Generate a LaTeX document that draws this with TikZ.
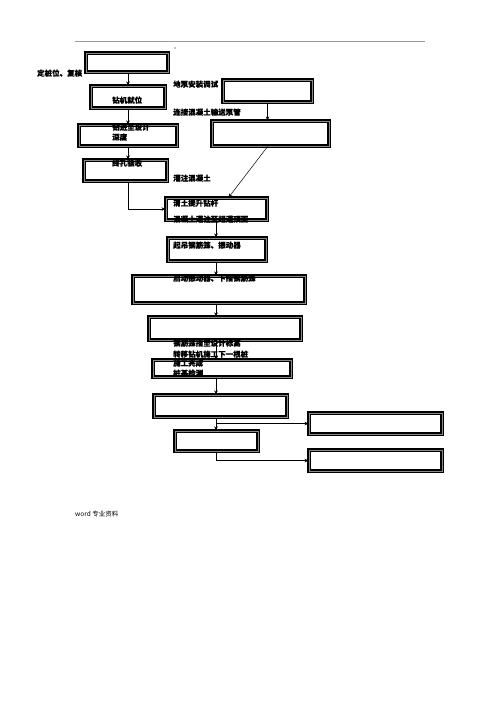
\documentclass[tikz,border=0pt]{standalone}
\usepackage{fontspec}
\newfontfamily\cjk[BoldFeatures={FakeBold=0.15}]{Noto Sans CJK SC}
\usetikzlibrary{arrows.meta, positioning}
\usepackage{xcolor}
\definecolor{rulegray}{HTML}{9A9A9A}
\definecolor{framegray}{HTML}{8A8A8A}

\begin{document}
\begin{tikzpicture}[
    x=1pt, y=-1pt,
    every node/.style={font=\cjk\bfseries\fontsize{7.5}{8}\selectfont},
    stage/.style={rectangle, draw, line width=1.1pt, double=framegray, double distance=1.1pt, anchor=north west, inner sep=0pt},
    lbl/.style={anchor=base west, inner sep=0pt},
    arr/.style={-{Stealth[length=4pt, width=3.5pt]}, line width=0.5pt}
]
    \useasboundingbox (0,0) rectangle (500,707);
    \draw[rulegray, line width=0.8pt] (75,41) -- (425,41);
    \fill (175,48) circle (0.6);

    % drilling column
    \node[stage, minimum width=82pt, minimum height=19pt] (locate) at (85.5,52.5) {};
    \node[stage, minimum width=74pt, minimum height=22pt] (rig)    at (90.5,85.5) {};
    \node[stage, minimum width=98pt, minimum height=21pt] (drill)  at (78.5,124.5) {};
    \node[stage, minimum width=83pt, minimum height=21pt] (accept) at (83.5,159.5) {};

    % pump side
    \node[stage, minimum width=89pt, minimum height=22pt]  (pump) at (222.5,79.5) {};
    \node[stage, minimum width=117pt, minimum height=25pt] (pipe) at (211.5,120.5) {};

    % concreting and cage
    \node[stage, minimum width=101pt, minimum height=22pt] (lift)   at (165.5,197.5) {};
    \node[stage, minimum width=98pt,  minimum height=23pt] (hoist)  at (167.5,237.5) {};
    \node[stage, minimum width=172pt, minimum height=27pt] (insert) at (132.5,275.5) {};
    \node[stage, minimum width=152pt, minimum height=23pt] (level)  at (148.5,316.5) {};
    \node[stage, minimum width=138pt, minimum height=17pt] (finish) at (152.5,359.5) {};
    \node[stage, minimum width=133pt, minimum height=22pt] (check)  at (153.5,394.5) {};
    \node[stage, minimum width=83pt,  minimum height=20pt] (fork)   at (174.5,430.5) {};
    \node[stage, minimum width=133pt, minimum height=21pt] (outA)   at (308.5,412.5) {};
    \node[stage, minimum width=133pt, minimum height=21pt] (outB)   at (308.5,449.5) {};

    % texts
    \node[lbl] (tLocate) at (37,76)   {定桩位、复核};
    \node[lbl] (tRig)    at (112,103) {钻机就位};
    \node[lbl] (tDrill)  at (112,130) {钻进至设计};
    \node[lbl] (tDepth)  at (112,140) {深度};
    \node[lbl] (tAccept) at (112,166) {终孔验收};
    \node[lbl] (tPump)   at (173,87)  {地泵安装调试};
    \node[lbl] (tPipe)   at (173,115) {连接混凝土输送泵管};
    \node[lbl] (tPour)   at (173,181) {灌注混凝土};
    \node[lbl] (tLift)   at (173,206) {清土提升钻杆};
    \node[lbl] (tTop)    at (173,222) {混凝土灌注至超灌顶面};
    \node[lbl] (tHoist)  at (173,248) {起吊钢筋笼、振动器};
    \node[lbl] (tInsert) at (173,281) {启动振动器、下插钢筋笼};
    \node[lbl] (tLevel)  at (173,346) {钢筋笼插至设计标高};
    \node[lbl] (tMove)   at (173,357) {转移钻机施工下一根桩};
    \node[lbl] (tDone)   at (173,366) {施工完成};
    \node[lbl] (tTest)   at (173,376) {桩基检测};
    \node[lbl, font=\cjk\fontsize{6.5}{7}\selectfont] (tNote) at (75,516) {word 专业资料};

    \coordinate (left)  at (128,0);
    \coordinate (spine) at (216,0);

    \draw[arr] (locate.south -| left) -- (rig.north -| left);
    \draw[arr] (rig.south -| left) -- (drill.north -| left);
    \draw[arr] (drill.south -| left) -- (accept.north -| left);
    \draw[arr] (accept.south -| left) |- (lift.west);
    \draw[arr] (pump.south) -- (pipe.north -| pump.south);
    \draw[arr] ([xshift=-3pt]pipe.south) -- ([xshift=12pt]lift.north);
    \draw[arr] (lift.south -| spine) -- (hoist.north -| spine);
    \draw[arr] (hoist.south -| spine) -- (insert.north -| spine);
    \draw[arr] (insert.south -| spine) -- (level.north -| spine);
    \draw[arr] (level.south -| spine) -- (finish.north -| spine);
    \draw[arr] (finish.south -| spine) -- (check.north -| spine);
    \draw[arr] (check.south -| spine) -- (fork.north -| spine);
    \draw[arr] (outA.west -| spine) -- (outA.west);
    \draw[arr] (fork.south -| spine) |- (outB.west);
\end{tikzpicture}
\end{document}
